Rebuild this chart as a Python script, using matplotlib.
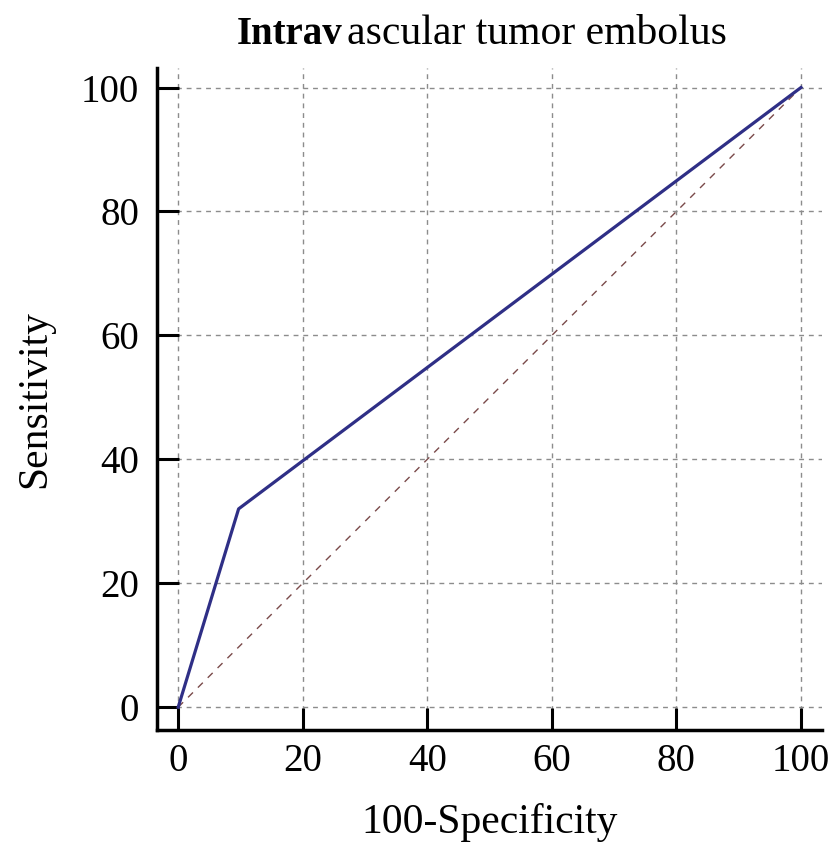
import matplotlib.pyplot as plt

# ROC points (100-Specificity, Sensitivity)
fpr = [0, 9.7, 100]
tpr = [0, 32, 100]
diag = [0, 100]
ticks = [0, 20, 40, 60, 80, 100]

plt.rcParams["font.family"] = ["Liberation Serif", "DejaVu Serif"]

fig = plt.figure(figsize=(8.33, 8.46), dpi=100)
ax = fig.add_axes([0.1885, 0.137, 0.7985, 0.783])

ax.plot(diag, diag, color="#7a4a4a", lw=1.0, dashes=(5, 5), zorder=2)
ax.plot(fpr, tpr, color="#2f2f86", lw=2.3, zorder=3)

ax.set_xlim(-3.4, 103.4)
ax.set_ylim(-3.7, 103.2)
ax.set_xticks(ticks)
ax.set_yticks(ticks)
ax.grid(True, color="#8c8c8c", lw=1.0, dashes=(3.5, 3.5))
ax.set_axisbelow(True)

for s in ["top", "right"]:
    ax.spines[s].set_visible(False)
for s in ["left", "bottom"]:
    ax.spines[s].set_linewidth(2.5)

ax.tick_params(direction="in", length=16, width=2.2, labelsize=28)
ax.tick_params(axis="x", pad=9)
ax.tick_params(axis="y", pad=13)

ax.set_xlabel("100-Specificity", fontsize=30, va="center")
ax.set_ylabel("Sensitivity", fontsize=30, va="center")
ax.xaxis.set_label_coords(0.5, -0.139)
ax.yaxis.set_label_coords(-0.183, 0.5)

# title: first part bold
t1 = fig.text(0.2845, 0.948, "Intrav", fontsize=28, fontweight="bold",
              ha="left", va="baseline")
fig.canvas.draw()
ax.annotate("ascular tumor embolus", xy=(1, 0), xycoords=t1,
            xytext=(3, 0), textcoords="offset points",
            fontsize=30, ha="left", va="bottom", annotation_clip=False)

fig.savefig("out.png", dpi=100)
